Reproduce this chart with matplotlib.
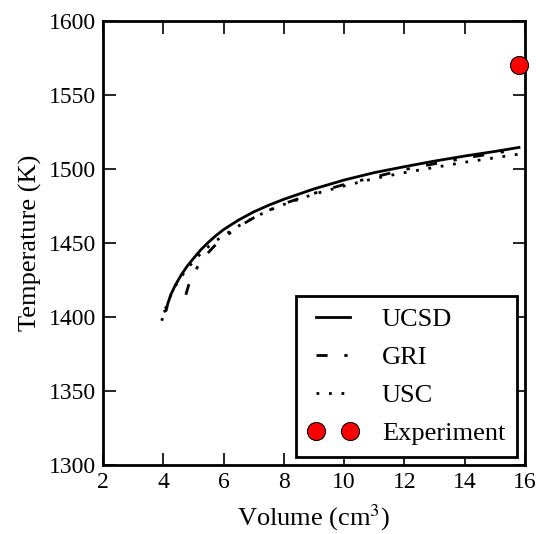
import matplotlib
matplotlib.use("Agg")
import matplotlib.pyplot as plt

plt.rcParams['font.family'] = ['Liberation Serif', 'DejaVu Serif']
plt.rcParams['mathtext.fontset'] = 'stix'

# computed temperature histories (volume in cm^3, temperature in K)
ucsd_v = [4.05, 4.1, 4.15, 4.25, 4.4, 4.6, 4.8, 5.0, 5.25, 5.5, 5.75, 6.0, 6.5, 7.0, 7.5, 8.0,
          9.0, 10.0, 11.0, 12.0, 13.0, 14.0, 15.0, 15.8]
ucsd_t = [1404, 1404.5, 1409, 1415, 1421.5, 1428.5, 1434.5, 1439.5, 1445.5, 1450.5, 1455, 1459,
          1465.5, 1471, 1475.5, 1479.5, 1486.5, 1492.5, 1497.5, 1501.5, 1505.3, 1508.7, 1511.8, 1514.5]

gri_v = [4.75, 4.85, 5.0, 5.2, 5.4, 5.7, 6.0, 6.5, 7.0, 7.5, 8.0, 9.0, 10.0, 11.0, 12.0, 13.0,
         14.0, 15.0, 15.8]
gri_t = [1415, 1422, 1429, 1436, 1441.5, 1448, 1453.5, 1461, 1467, 1472, 1476.5, 1483.5, 1489.5,
         1494.5, 1499.5, 1503.5, 1507.3, 1510.6, 1513.3]

usc_v = [3.95, 4.05, 4.15, 4.3, 4.5, 4.75, 5.0, 5.25, 5.5, 5.75, 6.0, 6.5, 7.0, 7.5, 8.0, 9.0,
         10.0, 11.0, 12.0, 13.0, 14.0, 15.0, 15.8]
usc_t = [1397.5, 1404, 1410, 1417, 1424.5, 1431.5, 1437.5, 1443, 1447.5, 1451.5, 1455, 1461.5,
         1467, 1472, 1476, 1483, 1488.5, 1493.5, 1497.5, 1501, 1504.5, 1507.5, 1510]

# measured peak temperature
exp_v = [15.8]
exp_t = [1570]

fig = plt.figure(figsize=(5.39, 5.34), dpi=100)
ax = fig.add_axes([0.191, 0.129, 0.783, 0.832])

ax.plot(ucsd_v, ucsd_t, color='black', lw=2.0, ls='-', label='UCSD')
ax.plot(gri_v, gri_t, color='black', lw=2.0, ls=(0, (4, 6, 1.2, 6)), label='GRI')
ax.plot(usc_v, usc_t, color='black', lw=2.0, ls=(0, (1, 3.5)), label='USC')
ax.plot(exp_v, exp_t, 'o', color='red', markeredgecolor='black', markeredgewidth=0.8,
        markersize=13, label='Experiment', clip_on=False, zorder=5)

ax.set_xlim(2, 16)
ax.set_ylim(1300, 1600)
ax.set_xticks(range(2, 17, 2))
ax.set_yticks(range(1300, 1601, 50))
ax.tick_params(direction='in', length=9, width=1.2, top=True, right=True,
               labelsize=17, pad=5)
for s in ax.spines.values():
    s.set_linewidth(2)

ax.set_xlabel(r'Volume (cm$^3$)', fontsize=19, labelpad=7)
ax.set_ylabel('Temperature (K)', fontsize=19, labelpad=5)

leg = ax.legend(loc='lower right', numpoints=2, fontsize=19, fancybox=False,
                edgecolor='black', framealpha=1, handlelength=1.9,
                borderaxespad=0.3, borderpad=0.45, labelspacing=0.55, handletextpad=0.9)
leg.get_frame().set_linewidth(2)

fig.savefig('out.png', dpi=100)
